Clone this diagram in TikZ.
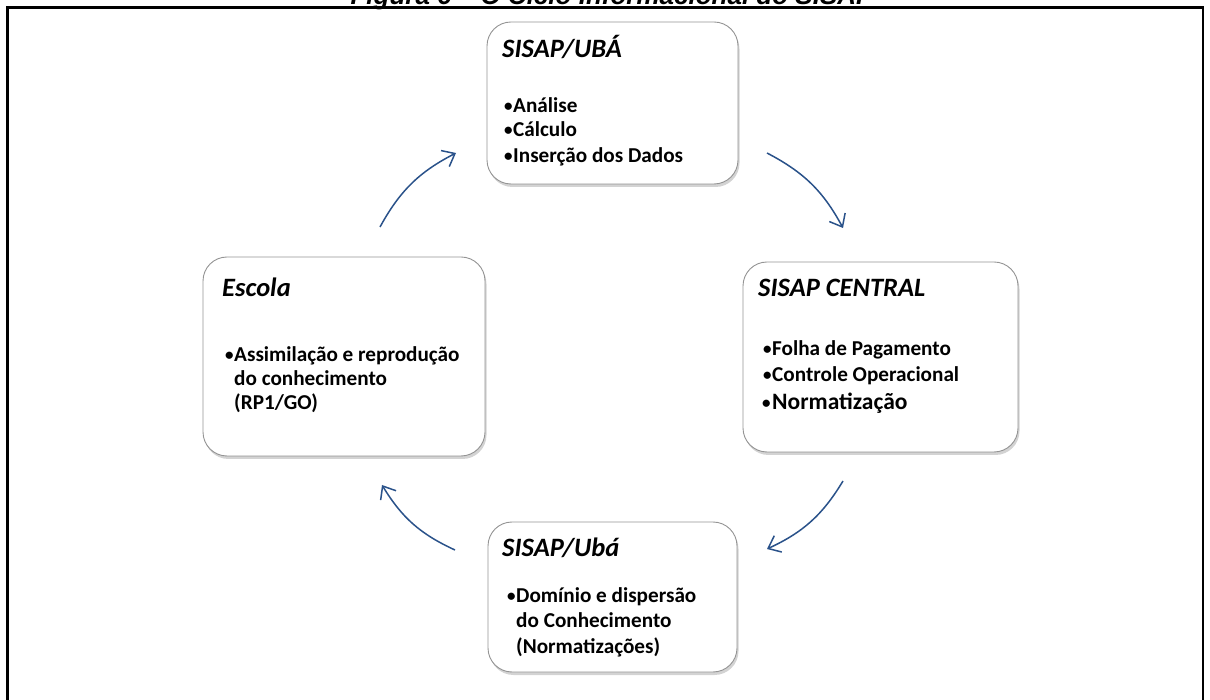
\documentclass[tikz,border=0pt]{standalone}
\usepackage{fontspec}
\setmainfont{Carlito}
\newfontfamily\arialfont{Liberation Sans}
\usetikzlibrary{arrows.meta,shadows}
\definecolor{arrowblue}{RGB}{42,82,138}
\newcommand{\smallbul}{\raisebox{1.4pt}{\fontsize{17}{17}\selectfont •}}
\begin{document}
\begin{tikzpicture}[x=1pt,y=1pt,
  box/.style={draw=black!42, line width=0.9pt, rounded corners=24pt, fill=white, inner sep=0pt, outer sep=0pt,
    drop shadow={shadow xshift=1.5pt, shadow yshift=-3pt, opacity=0.35}},
  ttl/.style={anchor=base west, inner sep=0pt, font=\fontsize{26.5}{30}\selectfont\bfseries\itshape},
  txt/.style={anchor=base west, inner sep=0pt, font=\fontsize{21.2}{24}\selectfont\bfseries},
  big/.style={anchor=base west, inner sep=0pt, font=\fontsize{23.5}{27}\selectfont\bfseries},
  cyc/.style={draw=arrowblue, line width=1.5pt, -{Straight Barb[length=11pt,width=18pt,line width=1.5pt]}, bend left=17}
]
\useasboundingbox (0,0) rectangle (1210,699);
\clip (0,0) rectangle (1210,699);
% caption (cut off at top)
\node[anchor=base, inner sep=0pt, font=\arialfont\fontsize{26}{30}\selectfont\bfseries\itshape] (caption) at (612,694) {Figura 6 – O Ciclo Informacional do SISAP};
% frame
\draw[line width=2.5pt] (7.5,-5) -- (7.5,691.5) -- (1203,691.5) -- (1203,-5);
% boxes
\node[box, minimum width=251pt, minimum height=162pt] (top) at (612.5,596) {};
\node[box, minimum width=275pt, minimum height=190pt] (right) at (880.5,342) {};
\node[box, minimum width=282pt, minimum height=199pt] (left) at (344,342.5) {};
\node[box, minimum width=249pt, minimum height=150pt] (bottom) at (612.5,102) {};
% top box text
\node[ttl] (t0) at (502,641) {SISAP/UBÁ};
\node[txt] (tb1) at (504,586) {\smallbul};
\node[txt] (t1) at (513,586) {Análise};
\node[txt] (tb2) at (504,562) {\smallbul};
\node[txt] (t2) at (513,562) {Cálculo};
\node[txt] (tb3) at (504,536) {\smallbul};
\node[txt] (t3) at (513,536) {Inserção dos Dados};
% right box text
\node[ttl] (r0) at (758,402) {SISAP CENTRAL};
\node[txt] (rb1) at (763,343) {\smallbul};
\node[txt] (r1) at (772,343) {Folha de Pagamento};
\node[txt] (rb2) at (763,317) {\smallbul};
\node[txt] (r2) at (772,317) {Controle Operacional};
\node[big] (rb3) at (762,289) {\smallbul};
\node[big] (r3) at (772,289) {Normatização};
% left box text
\node[ttl] (l0) at (222,402) {Escola};
\node[txt] (lb1) at (225,337) {\smallbul};
\node[txt] (l1) at (234,337) {Assimilação e reprodução};
\node[txt] (l2) at (234,313) {do conhecimento};
\node[txt] (l3) at (234,289) {(RP1/GO)};
% bottom box text
\node[ttl] (b0) at (502,142) {SISAP/Ubá};
\node[txt] (bb1) at (507,96) {\smallbul};
\node[txt] (b1) at (516,96) {Domínio e dispersão};
\node[txt] (b2) at (516,71) {do Conhecimento};
\node[txt] (b3) at (516,46) {(Normatizações)};
% cycle arrows
\coordinate (a1s) at (380,472);
\coordinate (a1e) at (456,546);
\coordinate (a2s) at (767,546);
\coordinate (a2e) at (843,471);
\coordinate (a3s) at (843,218);
\coordinate (a3e) at (767,150);
\coordinate (a4s) at (455,149);
\coordinate (a4e) at (382,214);
\draw[cyc] (a1s) to (a1e);
\draw[cyc] (a2s) to (a2e);
\draw[cyc] (a3s) to (a3e);
\draw[cyc] (a4s) to (a4e);
\end{tikzpicture}
\end{document}
